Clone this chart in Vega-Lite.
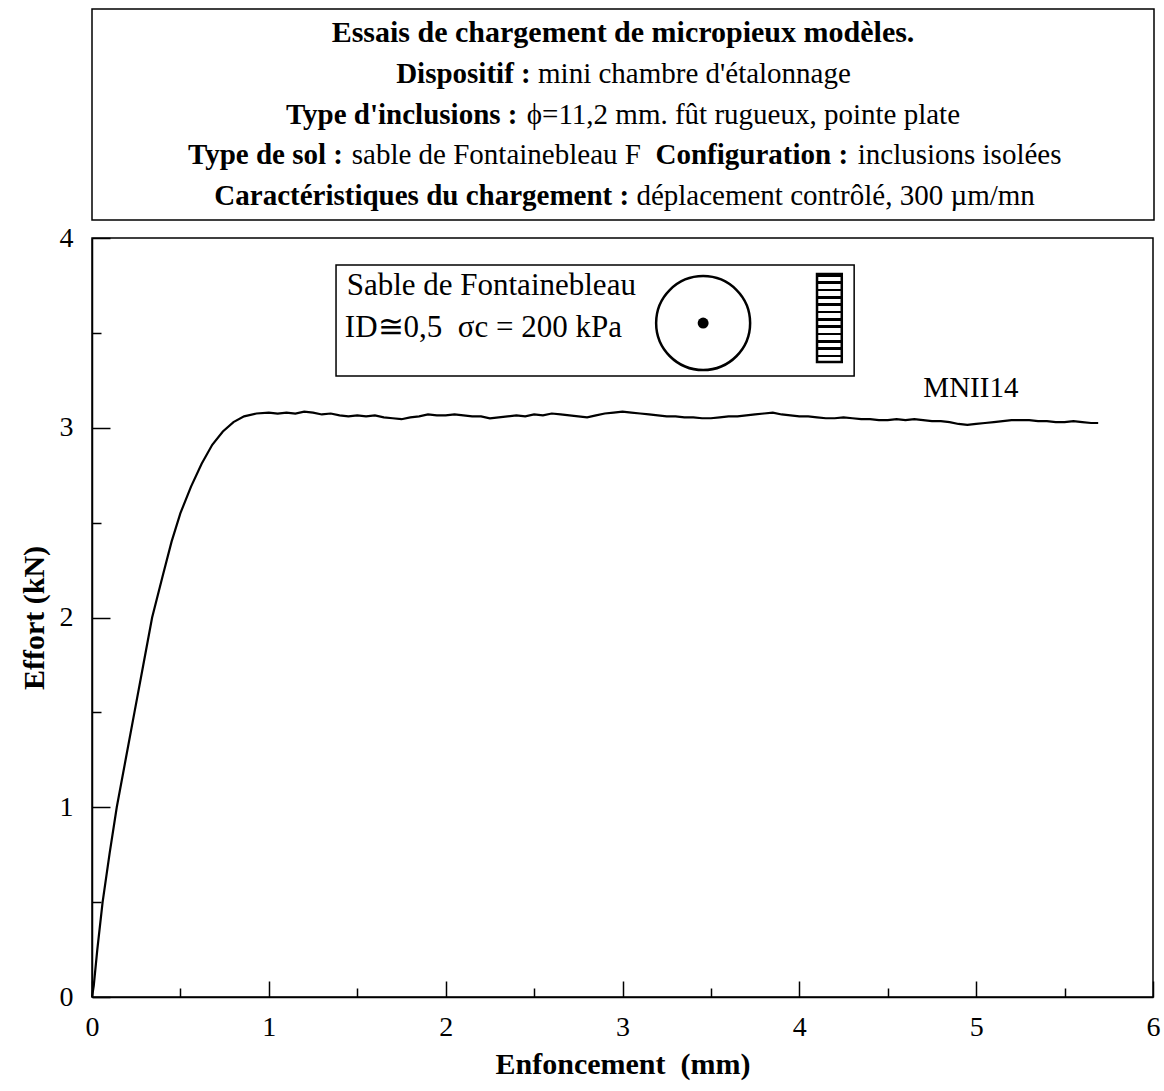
{
  "$schema": "https://vega.github.io/schema/vega-lite/v6.json",
  "padding": {"left": 18, "top": 8, "right": 5, "bottom": 5},
  "background": "white",
  "config": {
    "font": "Liberation Serif",
    "view": {"stroke": "black", "strokeWidth": 1.5},
    "axis": {"grid": false, "domainColor": "black", "domainWidth": 1.5, "tickColor": "black", "tickWidth": 1.5, "labelColor": "black", "titleColor": "black", "labelFont": "Liberation Serif", "titleFont": "Liberation Serif"}
  },
  "datasets": {
    "header": [
      {"line": 1, "kind": "title", "pos": 50, "txt": "Essais de chargement de micropieux modèles."},
      {"line": 2, "kind": "label", "pos": 28.64, "txt": "Dispositif :"},
      {"line": 2, "kind": "value", "pos": 42.0, "txt": "mini chambre d'étalonnage"},
      {"line": 3, "kind": "label", "pos": 18.26, "txt": "Type d'inclusions :"},
      {"line": 3, "kind": "value", "pos": 40.94, "txt": "ϕ=11,2 mm. fût rugueux, pointe plate"},
      {"line": 4, "kind": "label", "pos": 9.04, "txt": "Type de sol :"},
      {"line": 4, "kind": "value", "pos": 24.46, "txt": "sable de Fontainebleau F"},
      {"line": 4, "kind": "label", "pos": 53.06, "txt": "Configuration :"},
      {"line": 4, "kind": "value", "pos": 72.1, "txt": "inclusions isolées"},
      {"line": 5, "kind": "label", "pos": 11.52, "txt": "Caractéristiques du chargement :"},
      {"line": 5, "kind": "value", "pos": 51.26, "txt": "déplacement contrôlé, 300 µm/mn"}
    ],
    "curve": [
      {"x": 0, "y": 0}, {"x": 0.01, "y": 0.06}, {"x": 0.03, "y": 0.25}, {"x": 0.06, "y": 0.5},
      {"x": 0.1, "y": 0.76}, {"x": 0.14, "y": 1.0}, {"x": 0.19, "y": 1.25}, {"x": 0.24, "y": 1.5},
      {"x": 0.29, "y": 1.75}, {"x": 0.34, "y": 2.0}, {"x": 0.4, "y": 2.22}, {"x": 0.45, "y": 2.4},
      {"x": 0.5, "y": 2.55}, {"x": 0.56, "y": 2.69}, {"x": 0.62, "y": 2.81}, {"x": 0.68, "y": 2.91},
      {"x": 0.74, "y": 2.98}, {"x": 0.8, "y": 3.03}, {"x": 0.86, "y": 3.06}, {"x": 0.93, "y": 3.075},
      {"x": 1.0, "y": 3.08}, {"x": 1.05, "y": 3.075}, {"x": 1.1, "y": 3.08}, {"x": 1.15, "y": 3.075},
      {"x": 1.2, "y": 3.085}, {"x": 1.25, "y": 3.08}, {"x": 1.3, "y": 3.07}, {"x": 1.35, "y": 3.075},
      {"x": 1.4, "y": 3.065}, {"x": 1.45, "y": 3.06}, {"x": 1.5, "y": 3.065}, {"x": 1.55, "y": 3.06},
      {"x": 1.6, "y": 3.065}, {"x": 1.65, "y": 3.055}, {"x": 1.7, "y": 3.05}, {"x": 1.75, "y": 3.045},
      {"x": 1.8, "y": 3.055}, {"x": 1.85, "y": 3.06}, {"x": 1.9, "y": 3.07}, {"x": 1.95, "y": 3.065},
      {"x": 2.0, "y": 3.065}, {"x": 2.05, "y": 3.07}, {"x": 2.1, "y": 3.065}, {"x": 2.15, "y": 3.06},
      {"x": 2.2, "y": 3.06}, {"x": 2.25, "y": 3.05}, {"x": 2.3, "y": 3.055}, {"x": 2.35, "y": 3.06},
      {"x": 2.4, "y": 3.065}, {"x": 2.45, "y": 3.06}, {"x": 2.5, "y": 3.07}, {"x": 2.55, "y": 3.065},
      {"x": 2.6, "y": 3.075}, {"x": 2.65, "y": 3.07}, {"x": 2.7, "y": 3.065}, {"x": 2.75, "y": 3.06},
      {"x": 2.8, "y": 3.055}, {"x": 2.85, "y": 3.065}, {"x": 2.9, "y": 3.075}, {"x": 2.95, "y": 3.08},
      {"x": 3.0, "y": 3.085}, {"x": 3.05, "y": 3.08}, {"x": 3.1, "y": 3.075}, {"x": 3.15, "y": 3.07},
      {"x": 3.2, "y": 3.065}, {"x": 3.25, "y": 3.06}, {"x": 3.3, "y": 3.06}, {"x": 3.35, "y": 3.055},
      {"x": 3.4, "y": 3.055}, {"x": 3.45, "y": 3.05}, {"x": 3.5, "y": 3.05}, {"x": 3.55, "y": 3.055},
      {"x": 3.6, "y": 3.06}, {"x": 3.65, "y": 3.06}, {"x": 3.7, "y": 3.065}, {"x": 3.75, "y": 3.07},
      {"x": 3.8, "y": 3.075}, {"x": 3.85, "y": 3.08}, {"x": 3.9, "y": 3.07}, {"x": 3.95, "y": 3.065},
      {"x": 4.0, "y": 3.06}, {"x": 4.05, "y": 3.06}, {"x": 4.1, "y": 3.055}, {"x": 4.15, "y": 3.05},
      {"x": 4.2, "y": 3.05}, {"x": 4.25, "y": 3.055}, {"x": 4.3, "y": 3.05}, {"x": 4.35, "y": 3.045},
      {"x": 4.4, "y": 3.045}, {"x": 4.45, "y": 3.04}, {"x": 4.5, "y": 3.04}, {"x": 4.55, "y": 3.045},
      {"x": 4.6, "y": 3.04}, {"x": 4.65, "y": 3.045}, {"x": 4.7, "y": 3.04}, {"x": 4.75, "y": 3.035},
      {"x": 4.8, "y": 3.035}, {"x": 4.85, "y": 3.03}, {"x": 4.9, "y": 3.02}, {"x": 4.95, "y": 3.015},
      {"x": 5.0, "y": 3.02}, {"x": 5.05, "y": 3.025}, {"x": 5.1, "y": 3.03}, {"x": 5.15, "y": 3.035},
      {"x": 5.2, "y": 3.04}, {"x": 5.25, "y": 3.04}, {"x": 5.3, "y": 3.04}, {"x": 5.35, "y": 3.035},
      {"x": 5.4, "y": 3.035}, {"x": 5.45, "y": 3.03}, {"x": 5.5, "y": 3.03}, {"x": 5.55, "y": 3.035},
      {"x": 5.6, "y": 3.03}, {"x": 5.65, "y": 3.025}, {"x": 5.69, "y": 3.025}
    ],
    "legendbox": [{"x1": 1.38, "x2": 4.31, "y1": 3.273, "y2": 3.858}],
    "hatch": [{"x1": 4.1, "x2": 4.24, "y1": 3.346, "y2": 3.81}],
    "pile": [{"x": 3.456, "y": 3.552}],
    "legendtext": [
      {"x": 1.44, "y": 3.745, "txt": "Sable de Fontainebleau"},
      {"x": 1.43, "y": 3.525, "txt": "ID≅0,5 \u00a0σc = 200 kPa"}
    ],
    "series": [{"x": 4.97, "y": 3.21, "txt": "MNII14"}]
  },
  "vconcat": [
    {
      "width": 1062,
      "height": 211,
      "data": {"name": "header"},
      "encoding": {
        "x": {"field": "pos", "type": "quantitative", "scale": {"domain": [0, 100], "nice": false}, "axis": null},
        "y": {"field": "line", "type": "ordinal", "scale": {"type": "point", "padding": 0.6}, "axis": null},
        "text": {"field": "txt"}
      },
      "layer": [
        {"transform": [{"filter": "datum.kind === 'title'"}], "mark": {"type": "text", "fontSize": 30, "fontWeight": "bold", "align": "center", "baseline": "middle", "color": "black"}},
        {"transform": [{"filter": "datum.kind === 'label'"}], "mark": {"type": "text", "fontSize": 29, "fontWeight": "bold", "align": "left", "baseline": "middle", "color": "black"}},
        {"transform": [{"filter": "datum.kind === 'value'"}], "mark": {"type": "text", "fontSize": 29, "fontWeight": "normal", "align": "left", "baseline": "middle", "color": "black"}}
      ]
    },
    {
      "width": 1061,
      "height": 759,
      "resolve": {"axis": {"x": "independent", "y": "independent"}},
      "layer": [
        {"data": {"name": "curve"}, "mark": {"type": "line", "color": "black", "strokeWidth": 2.2, "interpolate": "linear"},
          "encoding": {
            "x": {"field": "x", "type": "quantitative", "scale": {"domain": [0, 6], "nice": false},
              "axis": {"orient": "bottom", "title": "Enfoncement \u00a0(mm)", "values": [0, 1, 2, 3, 4, 5, 6], "format": "d", "labelFlush": false, "labelOverlap": false, "tickSize": -16, "labelPadding": 32, "labelFontSize": 28, "titleFontSize": 30, "titleFontWeight": "bold", "titlePadding": 8}},
            "y": {"field": "y", "type": "quantitative", "scale": {"domain": [0, 4], "nice": false},
              "axis": {"orient": "left", "title": "Effort (kN)", "values": [0, 1, 2, 3, 4], "format": "d", "labelFlush": false, "labelOverlap": false, "tickSize": -18, "labelPadding": 37, "labelFontSize": 28, "titleFontSize": 30, "titleFontWeight": "bold", "titlePadding": 10}}
          }},
        {"data": {"name": "legendbox"}, "mark": {"type": "rect", "fill": "white", "stroke": "black", "strokeWidth": 1.5},
          "encoding": {
            "x": {"field": "x1", "type": "quantitative", "axis": {"orient": "bottom", "values": [0.5, 1.5, 2.5, 3.5, 4.5, 5.5], "labels": false, "title": null, "domain": false, "tickSize": -9}},
            "x2": {"field": "x2"},
            "y": {"field": "y1", "type": "quantitative", "axis": {"orient": "left", "values": [0.5, 1.5, 2.5, 3.5], "labels": false, "title": null, "domain": false, "tickSize": -9}},
            "y2": {"field": "y2"}}},
        {"data": {"name": "hatch"}, "mark": {"type": "rect", "stroke": "black", "strokeWidth": 2.5,
          "fill": {"gradient": "linear", "x1": 0, "y1": 0, "x2": 0, "y2": 1, "stops": [
            {"offset": 0, "color": "black"}, {"offset": 0.03, "color": "black"}, {"offset": 0.03, "color": "white"}, {"offset": 0.083, "color": "white"},
            {"offset": 0.083, "color": "black"}, {"offset": 0.113, "color": "black"}, {"offset": 0.113, "color": "white"}, {"offset": 0.167, "color": "white"},
            {"offset": 0.167, "color": "black"}, {"offset": 0.197, "color": "black"}, {"offset": 0.197, "color": "white"}, {"offset": 0.25, "color": "white"},
            {"offset": 0.25, "color": "black"}, {"offset": 0.28, "color": "black"}, {"offset": 0.28, "color": "white"}, {"offset": 0.333, "color": "white"},
            {"offset": 0.333, "color": "black"}, {"offset": 0.363, "color": "black"}, {"offset": 0.363, "color": "white"}, {"offset": 0.417, "color": "white"},
            {"offset": 0.417, "color": "black"}, {"offset": 0.447, "color": "black"}, {"offset": 0.447, "color": "white"}, {"offset": 0.5, "color": "white"},
            {"offset": 0.5, "color": "black"}, {"offset": 0.53, "color": "black"}, {"offset": 0.53, "color": "white"}, {"offset": 0.583, "color": "white"},
            {"offset": 0.583, "color": "black"}, {"offset": 0.613, "color": "black"}, {"offset": 0.613, "color": "white"}, {"offset": 0.667, "color": "white"},
            {"offset": 0.667, "color": "black"}, {"offset": 0.697, "color": "black"}, {"offset": 0.697, "color": "white"}, {"offset": 0.75, "color": "white"},
            {"offset": 0.75, "color": "black"}, {"offset": 0.78, "color": "black"}, {"offset": 0.78, "color": "white"}, {"offset": 0.833, "color": "white"},
            {"offset": 0.833, "color": "black"}, {"offset": 0.863, "color": "black"}, {"offset": 0.863, "color": "white"}, {"offset": 0.917, "color": "white"},
            {"offset": 0.917, "color": "black"}, {"offset": 0.947, "color": "black"}, {"offset": 0.947, "color": "white"}, {"offset": 1, "color": "white"}
          ]}},
          "encoding": {"x": {"field": "x1", "type": "quantitative", "axis": null}, "x2": {"field": "x2"}, "y": {"field": "y1", "type": "quantitative", "axis": null}, "y2": {"field": "y2"}}},
        {"data": {"name": "pile"}, "mark": {"type": "point", "shape": "circle", "size": 8836, "filled": false, "stroke": "black", "strokeWidth": 2.5, "opacity": 1},
          "encoding": {"x": {"field": "x", "type": "quantitative", "axis": null}, "y": {"field": "y", "type": "quantitative", "axis": null}}},
        {"data": {"name": "pile"}, "mark": {"type": "point", "shape": "circle", "size": 120, "filled": true, "color": "black", "opacity": 1},
          "encoding": {"x": {"field": "x", "type": "quantitative", "axis": null}, "y": {"field": "y", "type": "quantitative", "axis": null}}},
        {"data": {"name": "legendtext"}, "mark": {"type": "text", "fontSize": 31, "align": "left", "baseline": "middle", "color": "black"},
          "encoding": {"x": {"field": "x", "type": "quantitative", "axis": null}, "y": {"field": "y", "type": "quantitative", "axis": null}, "text": {"field": "txt"}}},
        {"data": {"name": "series"}, "mark": {"type": "text", "fontSize": 29, "align": "center", "baseline": "middle", "color": "black"},
          "encoding": {"x": {"field": "x", "type": "quantitative", "axis": null}, "y": {"field": "y", "type": "quantitative", "axis": null}, "text": {"field": "txt"}}}
      ]
    }
  ],
  "spacing": 2
}
